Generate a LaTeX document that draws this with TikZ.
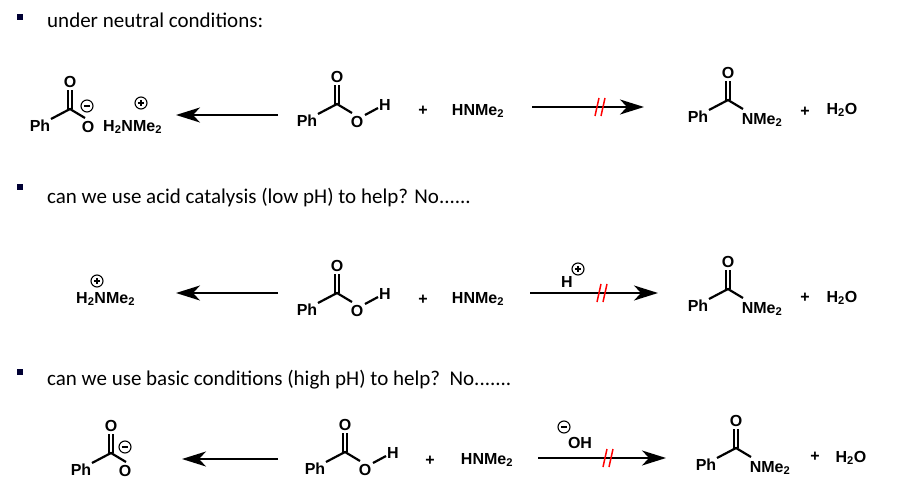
\documentclass[tikz,border=0pt]{standalone}
\usepackage{fontspec}
\setmainfont{Carlito}
\newfontfamily\chem{Liberation Sans}[BoldFont={Liberation Sans Bold}]
\usetikzlibrary{arrows.meta,calc}
\tikzset{
 lab/.style={font=\chem\bfseries\fontsize{16}{16}\selectfont, inner sep=0pt},
 bond/.style={line width=2.2pt},
 rxn/.style={line width=1.8pt,-{Stealth[length=24pt,width=15pt,inset=7pt]}},
 txt/.style={font=\fontsize{21}{21}\selectfont, anchor=west, inner sep=0pt},
 bul/.style={fill=black!80!blue, minimum size=6pt, inner sep=0pt},
 hash/.style={red, line width=1.5pt},
}
\newcommand\chg[2]{\draw[line width=1.1pt] (#1) circle (6pt);
 \draw[line width=1.1pt] ($(#1)+(-3.2,0)$) -- ($(#1)+(3.2,0)$);
 \ifnum#2=1 \draw[line width=1.1pt] ($(#1)+(0,-3.2)$) -- ($(#1)+(0,3.2)$);\fi}
\newcommand\carb[4]{%
 \coordinate (#1c) at (#2);
 \node[lab] (#1ph) at ($(#1c)+(-30,17)$) {Ph};
 \node[lab] (#1o) at ($(#1c)+(0,-27)$) {O};
 \node[lab,anchor=center] (#1r) at ($(#1c)+(#4)$) {#3};
 \draw[bond] ($(#1c)+(-19,10)$) -- (#1c) -- ($(#1c)+(15,9)$);
 \draw[bond] ($(#1c)+(-2,0)$) -- ($(#1c)+(-2,-19)$);
 \draw[bond] ($(#1c)+(2,0)$) -- ($(#1c)+(2,-19)$);
}
\newcommand\acid[2]{%
 \carb{#1}{#2}{O}{20,18}
 \node[lab] (#1h) at ($(#1c)+(48,1)$) {H};
 \draw[bond] ($(#1c)+(28,11)$) -- ($(#1c)+(41,4)$);
}
\begin{document}
\begin{tikzpicture}[x=1pt,y=-1pt]
\useasboundingbox (0,0) rectangle (902,500);
\node[bul] (b1) at (20,17) {};
\node[txt] (t1) at (47,20) {under neutral conditions:};
\node[bul] (b2) at (20,187) {};
\node[txt] (t2) at (47,198) {can we use acid catalysis (low pH) to help? No......};
\node[bul] (b3) at (20,372) {};
\node[txt] (t3) at (47,380) {can we use basic conditions (high pH) to help?\ \ No.......};

% ---- row 1
\carb{a1}{70,109}{O}{18,18}
\coordinate (m1) at (87,106); \chg{m1}{0}
\node[lab,anchor=west] (n1) at (103,127) {H\textsubscript{2}NMe\textsubscript{2}};
\coordinate (p1) at (141,103); \chg{p1}{1}
\acid{b1}{337,104}
\node[lab] (pl1) at (423,111) {+};
\node[lab] (am1) at (478,111) {HNMe\textsubscript{2}};
\coordinate (l1s) at (278,115); \coordinate (l1e) at (176,115);
\draw[rxn] (l1s) -- (l1e);
\coordinate (r1s) at (532,107); \coordinate (r1e) at (644,107);
\draw[rxn] (r1s) -- (r1e);
\draw[hash] (595,116) -- (599,98); \draw[hash] (601,116) -- (605,98);
\carb{c1}{728,100}{NMe\textsubscript{2}}{34,20}
\node[lab] (pp1) at (805,112) {+};
\node[lab] (w1) at (842,110) {H\textsubscript{2}O};

% ---- row 2
\coordinate (p2) at (97,281); \chg{p2}{1}
\node[lab,anchor=west] (n2) at (76,299) {H\textsubscript{2}NMe\textsubscript{2}};
\acid{b2}{337,293}
\node[lab] (pl2) at (423,300) {+};
\node[lab] (am2) at (478,299) {HNMe\textsubscript{2}};
\coordinate (l2s) at (278,293); \coordinate (l2e) at (176,293);
\draw[rxn] (l2s) -- (l2e);
\coordinate (r2s) at (530,293); \coordinate (r2e) at (658,293);
\draw[rxn] (r2s) -- (r2e);
\draw[hash] (597,302) -- (601,284); \draw[hash] (603,302) -- (607,284);
\node[lab] (hp) at (567,282) {H};
\coordinate (p3) at (578,269); \chg{p3}{1}
\carb{c2}{728,289}{NMe\textsubscript{2}}{34,20}
\node[lab] (pp2) at (805,298) {+};
\node[lab] (w2) at (842,298) {H\textsubscript{2}O};

% ---- row 3
\carb{a3}{111,453}{O}{14,18}
\coordinate (m3) at (125,447); \chg{m3}{0}
\acid{b3}{345,452}
\node[lab] (pl3) at (430,461) {+};
\node[lab] (am3) at (487,460) {HNMe\textsubscript{2}};
\coordinate (l3s) at (278,459); \coordinate (l3e) at (182,459);
\draw[rxn] (l3s) -- (l3e);
\coordinate (r3s) at (538,458); \coordinate (r3e) at (666,458);
\draw[rxn] (r3s) -- (r3e);
\draw[hash] (603,467) -- (607,449); \draw[hash] (609,467) -- (613,449);
\node[lab] (oh) at (580,443) {OH};
\coordinate (m4) at (564,427); \chg{m4}{0}
\carb{c3}{736,448}{NMe\textsubscript{2}}{34,20}
\node[lab] (pp3) at (815,457) {+};
\node[lab] (w3) at (851,458) {H\textsubscript{2}O};
\end{tikzpicture}
\end{document}
